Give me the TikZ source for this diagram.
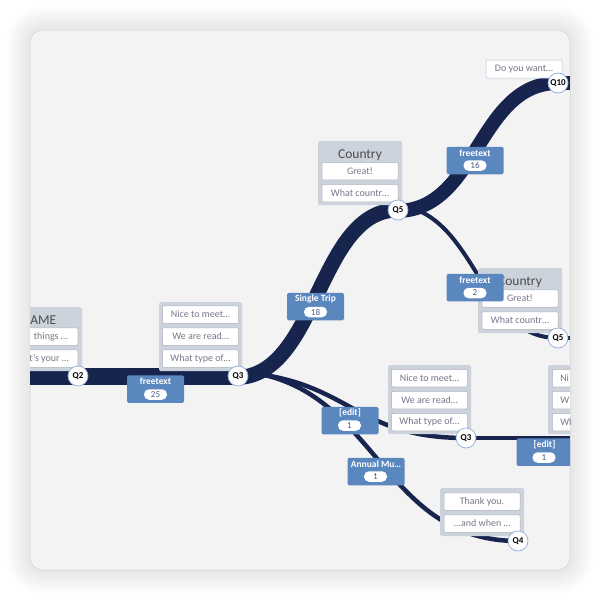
\documentclass[tikz,border=0pt]{standalone}
\usepackage{fontspec}
\setmainfont{Carlito}
\usetikzlibrary{positioning}
\pgfdeclarelayer{card}
\pgfdeclarelayer{flows}
\pgfdeclarelayer{front}
\pgfsetlayers{card,flows,main,front}
\definecolor{flownavy}{HTML}{17244E}
\definecolor{tagblue}{HTML}{5B87BF}
\definecolor{boxgray}{HTML}{CDD3DC}
\definecolor{cardbg}{HTML}{F3F3F3}
\definecolor{ansgray}{HTML}{77778A}
\definecolor{ringblue}{HTML}{8FADD6}
\newcommand{\cardclip}{\clip[rounded corners=12pt] (30,30) rectangle (570,570);}
\begin{document}
\begin{tikzpicture}[x=1pt, y=-1pt,
    flow/.style={draw=flownavy, line cap=butt},
    qbox/.style={draw=none, fill=boxgray, rounded corners=1.5pt, inner sep=0pt, anchor=north west},
    ans/.style={draw=boxgray!85!black, line width=0.5pt, fill=white, rounded corners=1pt, minimum width=76pt, minimum height=17.5pt, inner sep=0pt, text=ansgray, font=\fontsize{10}{11}\selectfont},
    anstext/.style={text=ansgray, font=\fontsize{10}{11}\selectfont, inner sep=0pt, anchor=east},
    qtitle/.style={text=black!70, font=\fontsize{13.5}{14}\selectfont, inner sep=0pt},
    tag/.style={fill=tagblue, rounded corners=1.5pt, minimum width=57pt, minimum height=27.5pt, inner sep=0pt},
    tagtext/.style={text=white, font=\bfseries\fontsize{9.5}{10}\selectfont, inner sep=0pt},
    pill/.style={fill=white, rounded corners=5pt, minimum width=23pt, minimum height=10.5pt, inner sep=0pt, text=tagblue!70!black, font=\fontsize{9}{10}\selectfont},
    qdot/.style={circle, draw=ringblue, line width=0.7pt, fill=white, minimum size=20pt, inner sep=0pt, font=\bfseries\fontsize{9}{10}\selectfont}]
  \useasboundingbox (0,0) rectangle (600,600);

  \begin{pgfonlayer}{card}
    \fill[white] (0,0) rectangle (600,600);
    % soft shadow of the card
    \foreach \r in {1,...,24}
      \fill[black, opacity=0.003, rounded corners=12pt+\r*1pt] (30-\r,30-\r) rectangle (570+\r,570+\r);
    \fill[cardbg, rounded corners=12pt, draw=black!18, line width=0.5pt] (30,30) rectangle (570,570);
  \end{pgfonlayer}

  % question dots and tags
  \begin{pgfonlayer}{front}
    \begin{scope}
      \cardclip
      \node[qdot] (q2) at (78,376) {Q2};
      \node[qdot] (q3) at (238,376) {Q3};
      \node[qdot] (q5) at (398,210) {Q5};
      \node[qdot] (q10) at (558,83) {Q10};
      \node[qdot] (q5c) at (558,338) {Q5};
      \node[qdot] (q3e) at (466,438) {Q3};
      \node[qdot] (q4) at (518,541) {Q4};

      \node[tag] (tag25) at (155.5,389) {};
      \node[tagtext] (tag25t) at (155.5,381.5) {freetext};
      \node[pill] (tag25p) at (155.5,394.5) {25};
      \node[tag] (tag18) at (315.5,306.5) {};
      \node[tagtext] (tag18t) at (315.5,299) {Single Trip};
      \node[pill] (tag18p) at (315.5,312) {18};
      \node[tag] (tag16) at (475,160.5) {};
      \node[tagtext] (tag16t) at (475,153) {freetext};
      \node[pill] (tag16p) at (475,165.5) {16};
      \node[tag] (tag2) at (475,287.5) {};
      \node[tagtext] (tag2t) at (475,280) {freetext};
      \node[pill] (tag2p) at (475,293) {2};
      \node[tag] (tagedit) at (350,420.5) {};
      \node[tagtext] (tageditt) at (350,413) {[edit]};
      \node[pill] (tageditp) at (349.5,425.5) {1};
      \node[tag] (tagannual) at (376,471.5) {};
      \node[tagtext] (tagannualt) at (376,464) {Annual Mu…};
      \node[pill] (tagannualp) at (375.5,476.5) {1};
      \node[tag] (tagright) at (545,452) {};
      \node[tagtext] (tagrightt) at (544.5,445) {[edit]};
      \node[pill] (tagrightp) at (544,457.5) {1};
    \end{scope}
  \end{pgfonlayer}

  % flows
  \begin{pgfonlayer}{flows}
    \begin{scope}
      \cardclip
      \coordinate (left) at (30,376);
      \coordinate (right) at (570,438);
      \coordinate (rightup) at (570,83);
      \coordinate (rightmid) at (570,338);
      \draw[flow, line width=17pt] (left) -- (q3.center);
      \draw[flow, line width=15pt] ([yshift=-1.5pt]q3.center) .. controls (318,374) and (318,210) .. (q5.center);
      \draw[flow, line width=14pt] ([yshift=-1pt]q5.center) .. controls (478,209) and (478,83) .. (q10.center);
      \draw[flow, line width=14pt] (q10.center) -- (rightup);
      \draw[flow, line width=4pt] ([yshift=5pt]q5.center) .. controls (478,215) and (478,338) .. (q5c.center);
      \draw[flow, line width=4pt] (q5c.center) -- (rightmid);
      \draw[flow, line width=4.5pt] ([yshift=4pt]q3.center) .. controls (352,380) and (352,438) .. (q3e.center);
      \draw[flow, line width=4.5pt] ([yshift=5pt]q3.center) .. controls (378,381) and (378,541) .. (q4.center);
      \draw[flow, line width=4.5pt] (q3e.center) -- (right);
    \end{scope}
  \end{pgfonlayer}

  % question boxes
  \begin{scope}
    \cardclip
    \node[qbox, minimum width=62pt, minimum height=64pt] (q2box) at (20,307) {};
    \node[ans, anchor=east] (q2a) at (78,336.5) {};
    \node[ans, anchor=east] (q2b) at (78,358.5) {};
    \node[qtitle, anchor=east] (q2t) at (56.5,320) {NAME};
    \node[anstext] (q2at) at (68,336.5) {things …};
    \node[anstext] (q2bt) at (69,358.5) {t’s your …};

    \node[qbox, minimum width=83pt, minimum height=69pt] (q3box) at (159,302) {};
    \node[ans] (q3a) at (200.5,314.5) {Nice to meet…};
    \node[ans] (q3b) at (200.5,336.5) {We are read…};
    \node[ans] (q3c) at (200.5,358.5) {What type of…};

    \node[qbox, minimum width=84pt, minimum height=64pt] (q5box) at (318,141) {};
    \node[qtitle] (q5t) at (360,155) {Country};
    \node[ans] (q5a) at (360,171) {Great!};
    \node[ans] (q5b) at (360,193) {What countr…};

    \node[ans, draw=ringblue!70, minimum height=18pt] (q10a) at (524,69) {Do you want…};

    \node[qbox, minimum width=84pt, minimum height=65pt] (q5cbox) at (478,268) {};
    \node[qtitle] (q5ct) at (520,282) {Country};
    \node[ans] (q5ca) at (520,298.5) {Great!};
    \node[ans] (q5cb) at (520,320.5) {What countr…};

    \node[qbox, minimum width=83pt, minimum height=69pt] (q3ebox) at (388,365) {};
    \node[ans] (q3ea) at (429.5,378) {Nice to meet…};
    \node[ans] (q3eb) at (429.5,400) {We are read…};
    \node[ans] (q3ec) at (429.5,422) {What type of…};

    \node[qbox, minimum width=30pt, minimum height=69pt] (q3rbox) at (548,365) {};
    \node[ans, anchor=west, text width=30pt, minimum width=30pt] (q3ra) at (552,378) {\hspace{8pt}Ni};
    \node[ans, anchor=west, text width=30pt, minimum width=30pt] (q3rb) at (552,400) {\hspace{8pt}W};
    \node[ans, anchor=west, text width=30pt, minimum width=30pt] (q3rc) at (552,422) {\hspace{8pt}Wh};

    \node[qbox, minimum width=84pt, minimum height=48pt] (q4box) at (440,488) {};
    \node[ans] (q4a) at (482,501.5) {Thank you.};
    \node[ans] (q4b) at (482,523.5) {...and when …};
  \end{scope}
\end{tikzpicture}
\end{document}
